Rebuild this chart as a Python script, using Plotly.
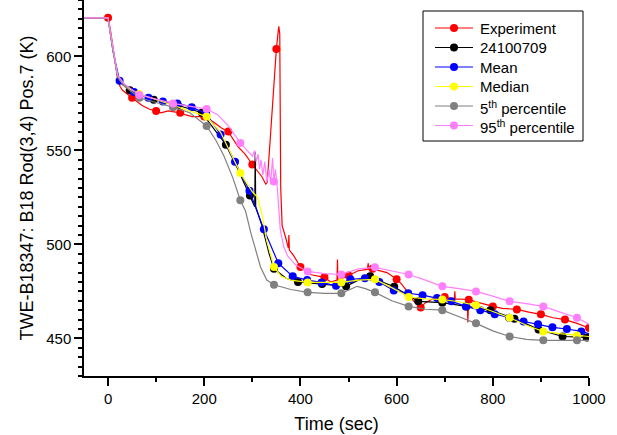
import plotly.graph_objects as go

# ---------------- data ----------------
exp_t = [-50, 0, 5, 10, 15, 20, 25, 30, 40, 50, 55, 70, 85, 100, 110, 125, 150, 160, 175, 200,
         220, 235, 250, 270, 285, 300, 310, 320, 328, 331, 338, 345, 350, 355, 357, 359, 362,
         370, 375, 376, 377, 386, 400, 420, 450, 463, 476, 477, 478, 500, 520, 539, 541, 542,
         550, 580, 600, 610, 622, 635, 650, 660, 675, 700, 720, 721, 722, 747, 748, 750, 770,
         800, 820, 850, 875, 900, 925, 950, 975, 1000]
exp_k = [620.5, 620.5, 614, 605, 596, 588, 584, 582, 580, 578, 577, 574, 572, 571, 570, 571, 570, 569, 568, 568,
         565, 562, 560, 552, 548, 542.5, 539, 536, 532, 533, 559, 585, 604, 616, 612, 530, 510,
         503, 498, 505, 497, 494, 488, 484, 482.5, 480, 481, 492, 481, 483.5, 486, 486.7, 490, 486.7,
         487, 485, 481.5, 479, 475, 470, 466.5, 469, 471, 472, 471, 475, 471, 470.7, 458.5, 470.5, 469,
         467, 466, 465.4, 464, 462.8, 461, 460, 458, 455.5]
exp_mk = [0, 50, 100, 150, 200, 250, 300, 350, 400, 450, 500, 550, 600, 650, 700, 750, 800,
          850, 900, 950, 1000]

run_t = [-50, 0, 10, 20, 30, 45, 95, 145, 195, 245, 270, 295, 305, 306, 307, 320, 335, 345,
         370, 395, 445, 470, 495, 520, 545, 560, 595, 620, 645, 695, 745, 795, 845, 895, 945, 995, 1000]
run_k = [620.5, 620.5, 604, 589, 585, 582, 577, 574, 570, 553, 540, 526, 520, 549, 520, 510, 495, 487,
         482, 480, 479, 478.5, 477.7, 481, 483, 481, 477.5, 473.5, 469.7, 469, 467, 465, 460.5, 454.8, 451, 450.5, 450.5]
run_mk = [45, 95, 145, 195, 245, 295, 345, 395, 445, 495, 545, 595, 645, 695, 745, 795, 845, 895, 945, 995]

mean_t = [-50, 0, 10, 24, 54, 84, 114, 144, 174, 204, 234, 264, 294, 324, 354, 384, 414, 444, 474,
          504, 534, 564, 594, 624, 654, 684, 714, 744, 774, 804, 834, 864, 894, 924, 954, 984, 1000]
mean_k = [620.5, 620.5, 603, 587, 581, 578, 576, 575, 573, 569.5, 558.5, 544, 528.5, 508, 490, 483, 481,
          479.8, 478, 481.4, 482, 480, 475.5, 474, 473, 471.5, 469.7, 467, 465, 462.8, 461, 459, 457.5,
          455.9, 455, 453.7, 452.5]
mean_mk = [24, 54, 84, 114, 144, 174, 204, 234, 264, 294, 324, 354, 384, 414, 444, 474, 504, 534,
           564, 594, 624, 654, 684, 714, 744, 774, 804, 834, 864, 894, 924, 954, 984]

med_t = [-50, 0, 10, 20, 35, 65, 135, 205, 234, 250, 275, 300, 311, 321, 330, 345, 360, 380, 415,
         485, 520, 555, 590, 625, 660, 695, 730, 765, 800, 835, 870, 905, 940, 975, 1000]
med_k = [620.5, 620.5, 604, 589, 584, 580, 574, 568, 559.6, 551, 538, 528, 525, 515, 502, 488, 483, 481,
         479.8, 479.8, 481, 481.4, 477, 472, 471, 470.7, 469.5, 467.6, 464.5, 461, 457, 453.7, 452.5, 451.6, 451]
pct_mk = [65, 135, 205, 275, 345, 415, 485, 555, 625, 695, 765, 835, 905, 975]

p5_t = [-50, 0, 10, 20, 35, 65, 100, 135, 170, 205, 225, 241, 260, 275, 286, 297, 317, 330, 345,
        380, 415, 450, 485, 500, 518, 535, 555, 590, 625, 660, 695, 730, 765, 800, 835, 870, 905,
        940, 975, 1000]
p5_k = [620.5, 620.5, 604, 589, 584, 578, 575.5, 573, 570, 563, 555, 547, 535, 523.5, 517.6, 506, 488,
        481, 478.5, 476, 474.5, 474, 474, 475.5, 477.7, 476.5, 474.5, 470, 467, 465.5, 465, 461.5,
        458, 454, 451, 449.5, 449, 449, 449, 449]

p95_t = [-50, 0, 10, 20, 35, 65, 135, 205, 228, 250, 275, 300, 305, 308, 312, 315, 318, 322, 326,
         330, 335, 338, 342, 345, 348, 352, 358, 365, 373, 390, 415, 450, 485, 520, 555, 590, 625,
         660, 695, 730, 765, 800, 835, 870, 905, 940, 975, 1000]
p95_k = [620.5, 620.5, 605, 590, 585, 579.5, 575, 572, 569, 563, 554, 547, 550, 544, 548, 540, 545,
         537, 544, 533, 540, 532, 546, 533.5, 540, 530, 508, 499, 494, 489, 485.6, 484.5, 484, 487,
         487.8, 486, 484, 481, 477.7, 476.5, 475, 472.5, 469.7, 468.5, 467, 464, 461, 457.5]

names = ["Experiment", "24100709", "Mean", "Median",
         "5<sup>th</sup> percentile", "95<sup>th</sup> percentile"]
colors = ["#FF0000", "#000000", "#0000FF", "#FFFF00", "#808080", "#FF80FF"]

series = [
    (exp_t, exp_k, exp_mk),
    (run_t, run_k, run_mk),
    (mean_t, mean_k, mean_mk),
    (med_t, med_k, pct_mk),
    (p5_t, p5_k, pct_mk),
    (p95_t, p95_k, pct_mk),
]

fig = go.Figure()
for (t, k, mk), name, col in zip(series, names, colors):
    fig.add_trace(go.Scatter(x=t, y=k, mode="lines", line=dict(color=col, width=1.2),
                             name=name, showlegend=False, hoverinfo="skip"))
    mset = set(mk)
    mx = [ti for ti in t if ti in mset]
    my = [ki for ti, ki in zip(t, k) if ti in mset]
    fig.add_trace(go.Scatter(x=mx, y=my, mode="markers",
                             marker=dict(color=col, size=8, line=dict(width=0)),
                             showlegend=False, hoverinfo="skip"))

# ---------------- legend drawn by hand (pixel layout of the reference) ----------------
W, H = 617, 435
ML, MR, MT, MB = 84, 28, 0, 59
PW, PH = W - ML - MR, H - MT - MB


def px_x(p):
    return (p - ML) / PW


def px_y(p):
    return (H - MB - p) / PH


shapes = [dict(type="rect", xref="paper", yref="paper",
               x0=px_x(423), x1=px_x(583), y0=px_y(141), y1=px_y(11),
               line=dict(color="black", width=1), fillcolor="white", layer="above")]
annotations = []
row_y = [28, 47.5, 67, 86.5, 106, 125.5]
for name, col, ry in zip(names, colors, row_y):
    shapes.append(dict(type="line", xref="paper", yref="paper",
                       x0=px_x(435), x1=px_x(473), y0=px_y(ry), y1=px_y(ry),
                       line=dict(color=col, width=1.2), layer="above"))
    shapes.append(dict(type="circle", xref="paper", yref="paper",
                       xsizemode="pixel", ysizemode="pixel",
                       xanchor=px_x(454), yanchor=px_y(ry),
                       x0=-4, x1=4, y0=-4, y1=4,
                       fillcolor=col, line=dict(width=0), layer="above"))
    annotations.append(dict(text=name, xref="paper", yref="paper",
                            x=px_x(478), y=px_y(ry + (1.5 if "sup" in name else 0)),
                            xanchor="left", yanchor="middle", showarrow=False,
                            font=dict(size=15, color="black")))

axis_common = dict(showline=True, linecolor="black", linewidth=1.5, ticks="outside",
                   ticklen=8, tickwidth=1.5, tickcolor="black", showgrid=False,
                   zeroline=False, mirror=False,
                   tickfont=dict(size=15, color="black"))

fig.update_xaxes(range=[-50, 1000], dtick=200, tick0=0,
                 minor=dict(dtick=100, tick0=0, ticks="outside", ticklen=4, tickwidth=1.5,
                            tickcolor="black"),
                 title=dict(text="Time (sec)", font=dict(size=18, color="black"), standoff=12),
                 **axis_common)
fig.update_yaxes(range=[430, 630], dtick=50, tick0=450,
                 minor=dict(dtick=5, ticks="outside", ticklen=4, tickwidth=1.5,
                            tickcolor="black"),
                 title=dict(text="TWE-B18347: B18 Rod(3,4) Pos.7 (K)",
                            font=dict(size=18, color="black"), standoff=8),
                 **axis_common)

fig.update_layout(
    width=W, height=H,
    margin=dict(l=ML, r=MR, t=MT, b=MB),
    plot_bgcolor="white", paper_bgcolor="white",
    font=dict(family="Arial, Liberation Sans, sans-serif", color="black"),
    showlegend=False,
    shapes=shapes,
    annotations=annotations,
)

fig.write_html("out.html")
